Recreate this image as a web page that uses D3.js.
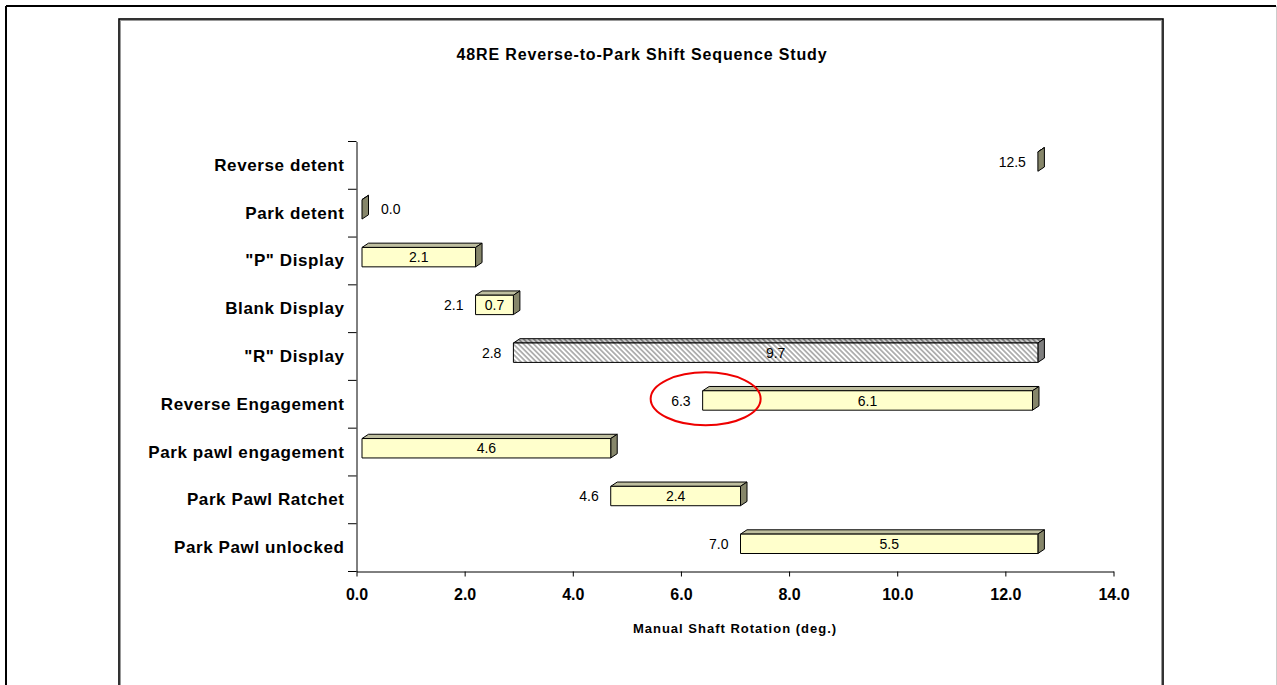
<!DOCTYPE html>
<html>
<head>
<meta charset="utf-8">
<script src="https://cdn.jsdelivr.net/npm/d3@7"></script>
<style>
  html, body { margin: 0; padding: 0; background: #fff; }
  svg { display: block; font-family: "Liberation Sans", Arial, sans-serif; }
</style>
</head>
<body>
<svg id="chart" width="1277" height="685"></svg>
<script>
// ---- data ----
const categories = ["Reverse detent", "Park detent", "\"P\" Display", "Blank Display", "\"R\" Display",
  "Reverse Engagement", "Park pawl engagement", "Park Pawl Ratchet", "Park Pawl unlocked"];
const starts    = [12.5, 0.0, 0.0, 2.1, 2.8, 6.3, 0.0, 4.6, 7.0];
const durations = [0.0, 0.0, 2.1, 0.7, 9.7, 6.1, 4.6, 2.4, 5.5];
const xTicks = [0, 2, 4, 6, 8, 10, 12, 14];
const hatchedCategories = ["\"R\" Display"];
const circledCategory = "Reverse Engagement";
const titleText = "48RE Reverse-to-Park Shift Sequence Study";
const xTitle = "Manual Shaft Rotation (deg.)";

const svg = d3.select("#chart");

// frames
svg.append("line").attr("x1", 6).attr("y1", 6).attr("x2", 1276).attr("y2", 6).attr("stroke", "#000").attr("stroke-width", 2);
svg.append("line").attr("x1", 6).attr("y1", 6).attr("x2", 6).attr("y2", 690).attr("stroke", "#000").attr("stroke-width", 2);
svg.append("line").attr("x1", 1276.5).attr("y1", 6).attr("x2", 1276.5).attr("y2", 690).attr("stroke", "#ccc").attr("stroke-width", 1);
svg.append("rect").attr("x", 119).attr("y", 19).attr("width", 1044).attr("height", 700)
  .attr("fill", "none").attr("stroke", "#000").attr("stroke-width", 1.6);
svg.append("rect").attr("x", 120.5).attr("y", 20.5).attr("width", 1041).attr("height", 700)
  .attr("fill", "none").attr("stroke", "#999").attr("stroke-width", 1);

// patterns
const defs = svg.append("defs");
function hatch(id, bg, fg, w) {
  const p = defs.append("pattern").attr("id", id).attr("patternUnits", "userSpaceOnUse")
    .attr("width", 3.6).attr("height", 3.6).attr("patternTransform", "rotate(-45)");
  p.append("rect").attr("width", 3.6).attr("height", 3.6).attr("fill", bg);
  p.append("line").attr("x1", 0.9).attr("y1", 0).attr("x2", 0.9).attr("y2", 3.6)
    .attr("stroke", fg).attr("stroke-width", w);
}
hatch("hatchFront", "#ffffff", "#a9a9a9", 1.7);
hatch("hatchTop", "#c8c8c8", "#7a7a7a", 1.7);

// scales
const x = d3.scaleLinear().domain([0, 14]).range([356.5, 1113.5]);
const y = d3.scaleBand().domain(categories).range([141.5, 571.5]).paddingInner(0).paddingOuter(0);

// axes
const xAxis = svg.append("g").attr("transform", "translate(0,571.5)")
  .call(d3.axisBottom(x).tickValues(xTicks).tickSize(5).tickSizeOuter(0).tickPadding(12)
    .tickFormat(d3.format(".1f")));
xAxis.selectAll("text").attr("font-size", 16).attr("font-weight", "bold")
  .attr("font-family", "Liberation Sans, Arial, sans-serif").attr("fill", "#000");
xAxis.selectAll("line,path").attr("stroke", "#000");

const yAxis = svg.append("g").attr("transform", "translate(356.5,0)")
  .call(d3.axisLeft(y).tickSize(0).tickSizeOuter(0).tickPadding(12));
yAxis.selectAll("text").attr("font-size", 17).attr("font-weight", "bold")
  .attr("letter-spacing", "0.6px")
  .attr("font-family", "Liberation Sans, Arial, sans-serif").attr("fill", "#000");
yAxis.selectAll("path").attr("stroke", "#000");
// boundary ticks between categories
const bounds = categories.map(c => y(c)).concat([y.range()[1]]);
svg.append("g").selectAll("line").data(bounds).join("line")
  .attr("x1", 348).attr("x2", 356.5).attr("y1", d => d).attr("y2", d => d)
  .attr("stroke", "#000");

// title
svg.append("text").attr("x", 642).attr("y", 60).attr("text-anchor", "middle")
  .attr("font-size", 16).attr("font-weight", "bold").attr("letter-spacing", "0.85px")
  .text(titleText);
svg.append("text").attr("x", 735).attr("y", 633).attr("text-anchor", "middle")
  .attr("font-size", 13).attr("font-weight", "bold").attr("letter-spacing", "1px")
  .text(xTitle);

// 3D bars
const ox = 5.5, dx = 6.5, dy = 4.3;
const bars = svg.append("g");
categories.forEach((c, i) => {
  const s = starts[i], d = durations[i];
  const x0 = x(s) + ox, x1 = x(s + d) + ox;
  const yc = y(c) + y.bandwidth() / 2;
  const ft = yc - 13.5, fb = yc + 5.9;
  const hatched = hatchedCategories.includes(c);
  const front = hatched ? "url(#hatchFront)" : "#FFFFCC";
  const top = hatched ? "url(#hatchTop)" : "#BEBE9F";
  const side = hatched ? "#7f7f7f" : "#86866A";
  const g = bars.append("g").attr("stroke", "#000").attr("stroke-width", 1).attr("stroke-linejoin", "round");
  g.append("polygon").attr("points", [[x0, ft], [x0 + dx, ft - dy], [x1 + dx, ft - dy], [x1, ft]].join(" "))
    .attr("fill", top);
  g.append("polygon").attr("points", [[x1, ft], [x1 + dx, ft - dy], [x1 + dx, fb - dy], [x1, fb]].join(" "))
    .attr("fill", side);
  g.append("rect").attr("x", x0).attr("y", ft).attr("width", Math.max(0, x1 - x0)).attr("height", fb - ft)
    .attr("fill", front);

  const fmt = d3.format(".1f");
  const ty = (ft + fb) / 2;
  if (d > 0) {
    bars.append("text").attr("x", (x0 + x1) / 2).attr("y", ty).attr("dy", "0.36em")
      .attr("text-anchor", "middle").attr("font-size", 14).text(fmt(d));
  } else if (s === 0) {
    bars.append("text").attr("x", x1 + 19).attr("y", ty).attr("dy", "0.36em")
      .attr("text-anchor", "start").attr("font-size", 14).text(fmt(d));
  }
  if (s > 0) {
    bars.append("text").attr("x", x0 - 12).attr("y", ty).attr("dy", "0.36em")
      .attr("text-anchor", "end").attr("font-size", 14).text(fmt(s));
  }
});

// red annotation ellipse around the Reverse Engagement start
const ci = categories.indexOf(circledCategory);
svg.append("ellipse")
  .attr("cx", x(starts[ci]) + ox + 3)
  .attr("cy", y(circledCategory) + y.bandwidth() / 2 - 5.5)
  .attr("rx", 55).attr("ry", 26.5)
  .attr("fill", "none").attr("stroke", "#ee0000").attr("stroke-width", 2);
</script>
</body>
</html>
